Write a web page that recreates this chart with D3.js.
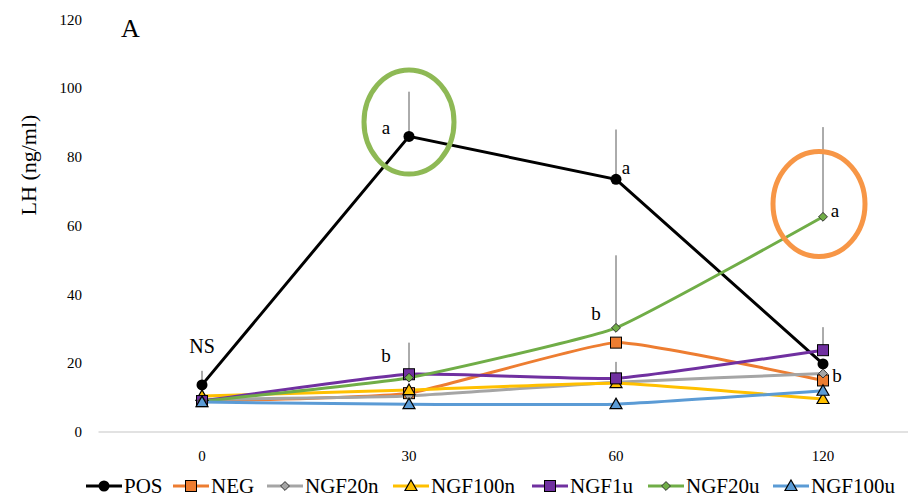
<!DOCTYPE html>
<html>
<head>
<meta charset="utf-8">
<script src="https://cdn.jsdelivr.net/npm/d3@7"></script>
<style>
  body { margin: 0; background: #fff; }
  text { font-family: "Liberation Serif", "Times New Roman", serif; fill: #000; }
</style>
</head>
<body>
<script>
// Data
const times = ['0', '30', '60', '120'];
const seriesNames = ['POS', 'NEG', 'NGF20n', 'NGF100n', 'NGF1u', 'NGF20u', 'NGF100u'];
const posValues = [13.7, 86, 73.5, 19.8];
const negValues = [9, 11.3, 26, 15];
const ngf20nValues = [9.5, 10.5, 14.5, 17];
const ngf100nValues = [10.5, 12.2, 14.2, 9.6];
const ngf1uValues = [9, 16.8, 15.6, 23.8];
const ngf20uValues = [9, 15.8, 30.3, 62.6];
const ngf100uValues = [8.7, 8.1, 8.1, 12];
// upward error bars (null = not shown)
const posErr = [4.1, 13, 14.5, null];
const ngf1uErr = [null, 9.2, 4.8, 6.7];
const ngf20uErr = [null, null, 21.1, 26.1];
const yTicks = [0, 20, 40, 60, 80, 100, 120];
// significance letters: [time, value, text, dx, dy]
const letters = [
  ['0', 13.7, 'NS', 0, -32],
  ['30', 86, 'a', -23, -2],
  ['30', 16.8, 'b', -23, -12],
  ['60', 73.5, 'a', 10, -5],
  ['60', 30.3, 'b', -20, -8],
  ['120', 62.6, 'a', 12, 0],
  ['120', 17, 'b', 14, 8]
];

const width = 908, height = 499;
const svg = d3.select('body').append('svg')
  .attr('width', width).attr('height', height);

const x = d3.scaleBand().domain(times).range([98.5, 926.5]);
const cx = t => x(t) + x.bandwidth() / 2;
const y = d3.scaleLinear().domain([0, 120]).range([432, 19.5]);

// horizontal axis line
svg.append('line')
  .attr('x1', 98.5).attr('x2', 926.5)
  .attr('y1', y(0)).attr('y2', y(0))
  .attr('stroke', '#d9d9d9').attr('stroke-width', 1.5);

// y tick labels
svg.append('g').selectAll('text')
  .data(yTicks).enter().append('text')
  .attr('x', 82).attr('y', d => y(d) + 5)
  .attr('text-anchor', 'end')
  .style('font-size', '15px')
  .text(d => d);

// x tick labels
svg.append('g').selectAll('text')
  .data(times).enter().append('text')
  .attr('x', d => cx(d)).attr('y', 461)
  .attr('text-anchor', 'middle')
  .style('font-size', '15px')
  .text(d => d);

// y title
svg.append('text')
  .attr('transform', 'translate(36,165) rotate(-90)')
  .attr('text-anchor', 'middle')
  .style('font-size', '22px')
  .text('LH (ng/ml)');

// panel letter
svg.append('text')
  .attr('x', 121).attr('y', 37)
  .style('font-size', '26px')
  .text('A');

const series = [
  { name: 'POS', values: posValues, err: posErr, color: '#000000', marker: 'circle', smooth: false },
  { name: 'NEG', values: negValues, err: null, color: '#ed7d31', marker: 'square', smooth: true },
  { name: 'NGF20n', values: ngf20nValues, err: null, color: '#a5a5a5', marker: 'diamond', smooth: true },
  { name: 'NGF100n', values: ngf100nValues, err: null, color: '#ffc000', marker: 'triangle', smooth: true },
  { name: 'NGF1u', values: ngf1uValues, err: ngf1uErr, color: '#7030a0', marker: 'square', smooth: true },
  { name: 'NGF20u', values: ngf20uValues, err: ngf20uErr, color: '#70ad47', marker: 'diamond', smooth: true },
  { name: 'NGF100u', values: ngf100uValues, err: null, color: '#5b9bd5', marker: 'triangle', smooth: true }
];

// error bars
series.forEach(s => {
  if (!s.err) return;
  s.err.forEach((e, i) => {
    if (e == null) return;
    svg.append('line')
      .attr('x1', cx(times[i])).attr('x2', cx(times[i]))
      .attr('y1', y(s.values[i])).attr('y2', y(s.values[i] + e))
      .attr('stroke', '#595959').attr('stroke-width', 1);
  });
});

function drawMarker(g, type, px, py, color) {
  if (type === 'circle') {
    g.append('circle').attr('cx', px).attr('cy', py).attr('r', 5.5).attr('fill', '#000');
  } else if (type === 'square') {
    g.append('rect').attr('x', px - 5.5).attr('y', py - 5.5).attr('width', 11).attr('height', 11)
      .attr('fill', color).attr('stroke', '#000').attr('stroke-width', 1);
  } else if (type === 'diamond') {
    g.append('path').attr('d', d3.symbol(d3.symbolDiamond2, 50)())
      .attr('transform', `translate(${px},${py})`)
      .attr('fill', color).attr('stroke', '#333').attr('stroke-width', 1);
  } else {
    const t = 6;
    g.append('path')
      .attr('d', `M${px},${py - t}L${px + t},${py + t * 0.75}L${px - t},${py + t * 0.75}Z`)
      .attr('fill', color).attr('stroke', '#000').attr('stroke-width', 1.2);
  }
}

// lines and markers
series.forEach(s => {
  const line = d3.line()
    .x((d, i) => cx(times[i]))
    .y(d => y(d))
    .curve(s.smooth ? d3.curveCardinal.tension(0.6) : d3.curveLinear);
  svg.append('path')
    .datum(s.values)
    .attr('d', line)
    .attr('fill', 'none')
    .attr('stroke', s.color)
    .attr('stroke-width', 3);
});
series.forEach(s => {
  const g = svg.append('g');
  s.values.forEach((v, i) => drawMarker(g, s.marker, cx(times[i]), y(v), s.color));
});

// significance letters
svg.append('g').selectAll('text')
  .data(letters).enter().append('text')
  .attr('x', d => cx(d[0]) + d[3])
  .attr('y', d => y(d[1]) + d[4])
  .attr('text-anchor', 'middle')
  .style('font-size', d => d[2] === 'NS' ? '20px' : '19px')
  .text(d => d[2]);

// highlight ellipses
svg.append('ellipse')
  .attr('cx', cx('30')).attr('cy', 122).attr('rx', 45).attr('ry', 52)
  .attr('fill', 'none').attr('stroke', '#8eb955').attr('stroke-width', 5);
svg.append('ellipse')
  .attr('cx', cx('120') - 4).attr('cy', 204).attr('rx', 46).attr('ry', 52.5)
  .attr('fill', 'none').attr('stroke', '#f79646').attr('stroke-width', 5);

// legend
const legendX = [86, 173, 267, 393, 532, 648, 773];
const legend = svg.append('g');
series.forEach((s, i) => {
  const lx = legendX[i], ly = 486;
  legend.append('line')
    .attr('x1', lx).attr('x2', lx + 36)
    .attr('y1', ly).attr('y2', ly)
    .attr('stroke', s.color).attr('stroke-width', 3);
  drawMarker(legend, s.marker, lx + 18, ly, s.color);
  legend.append('text')
    .attr('x', lx + 38).attr('y', ly + 7)
    .style('font-size', '21px')
    .text(s.name);
});
</script>
</body>
</html>
